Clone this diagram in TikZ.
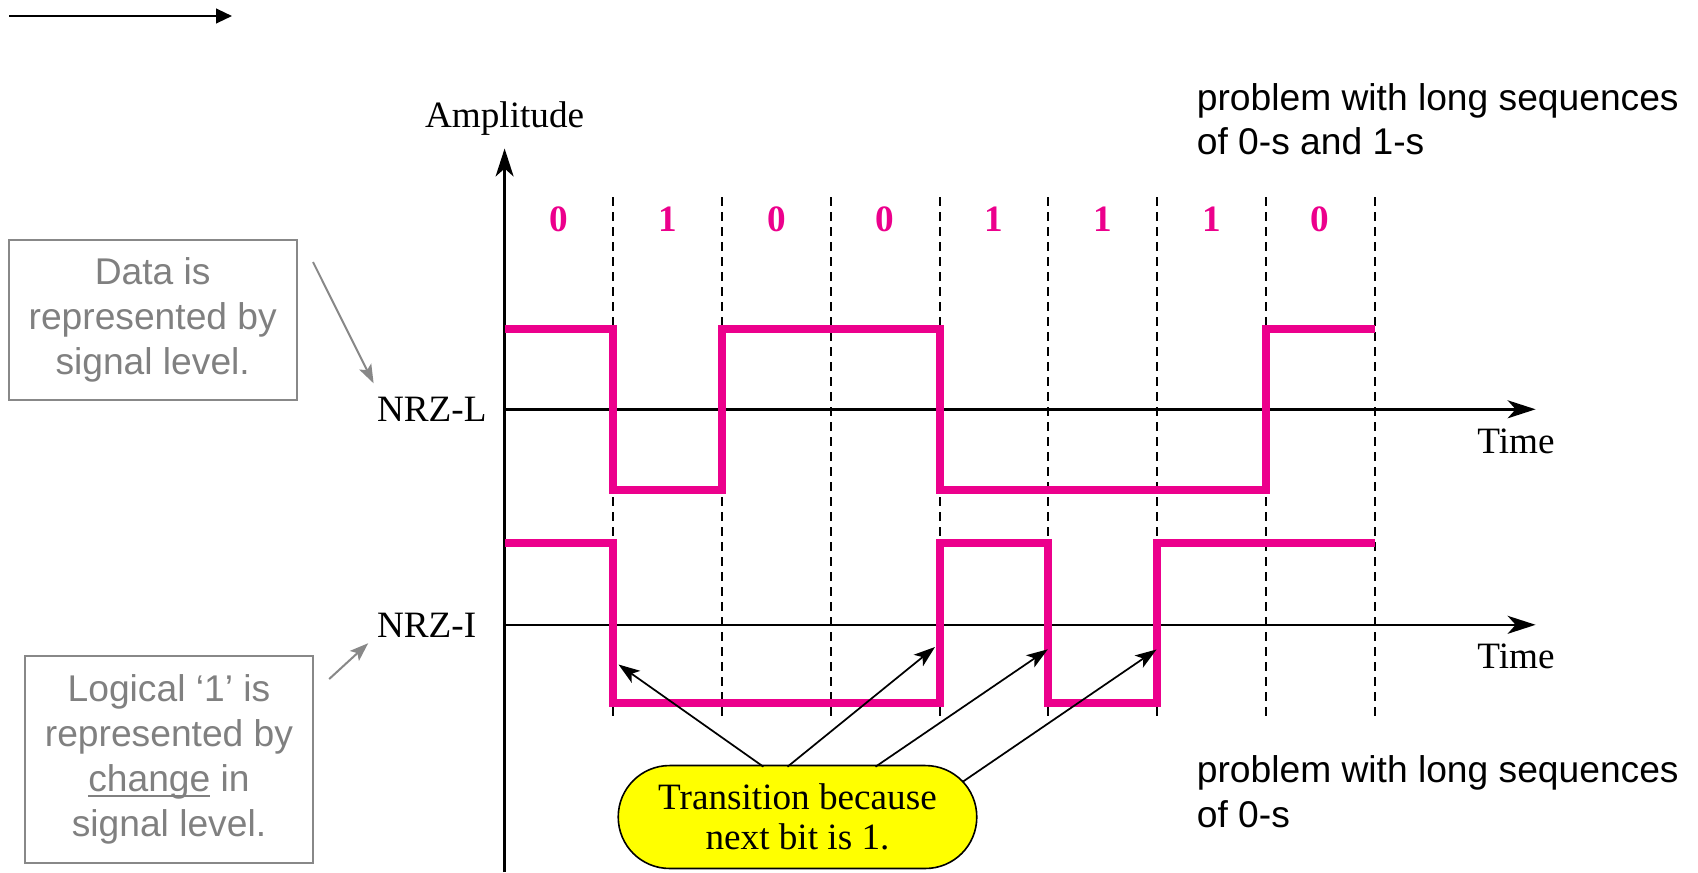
\documentclass[tikz,border=0pt]{standalone}
\usepackage{fontspec}
\setmainfont{Liberation Serif}
\newfontfamily\arialfont{Liberation Sans}
\usetikzlibrary{arrows.meta}
\definecolor{pinkc}{RGB}{236,0,140}
\definecolor{graytxt}{RGB}{128,128,128}
\definecolor{grayln}{RGB}{136,136,136}
\definecolor{pillyellow}{RGB}{255,255,0}
\newcommand\myul[1]{\setbox0\hbox{#1}\rlap{\rule[-0.13em]{\wd0}{0.055em}}\box0\relax}
\begin{document}
\begin{tikzpicture}[x=0.75pt,y=-0.75pt,
  axis/.style={line width=1.8pt,-{Stealth[length=21pt,width=13.5pt,inset=6pt]}},
  gridline/.style={line width=1.4pt,dash pattern=on 6.75pt off 4.5pt},
  sig/.style={line width=6pt,pinkc,line join=miter},
  bit/.style={font=\bfseries\fontsize{27.9}{30}\selectfont,text=pinkc,anchor=base,inner sep=0pt},
  lbl/.style={font=\fontsize{27.9}{30}\selectfont,inner sep=0pt},
  note/.style={draw=grayln,line width=1.5pt,text=graytxt,font=\arialfont\fontsize{27.9}{33.75}\selectfont,align=center,inner sep=0pt},
  garrow/.style={grayln,line width=1.5pt,-{Stealth[length=14pt,width=10pt,inset=3pt]}},
  pill/.style={draw=black,line width=1.2pt,fill=pillyellow,rounded corners=38.5pt,minimum width=268.9pt,minimum height=77.2pt,align=center,font=\fontsize{27.9}{30}\selectfont,inner sep=0pt},
  parrow/.style={line width=1.3pt,-{Stealth[length=16pt,width=11pt,inset=4pt]}},
  side/.style={font=\arialfont\fontsize{27.9}{33.4}\selectfont,align=left,anchor=west,inner sep=0pt},
  toparrow/.style={line width=1.7pt,-{Stealth[length=12pt,width=11pt,inset=0pt]}}
]
\useasboundingbox (0,0) rectangle (1698,872);

% top-left arrow
\coordinate (tl1) at (9,16);
\coordinate (tl2) at (232,16);
\draw[toparrow] (tl1) -- (tl2);

% dashed bit boundaries
\foreach \i in {1,...,8}{
  \draw[gridline] ({504.6+108.75*\i},197) -- ({504.6+108.75*\i},722);
}

% axes
\coordinate (o0) at (504.6,872);
\coordinate (atop) at (504.6,148.5);
\coordinate (l0) at (504.6,409.3);
\coordinate (l1) at (1535.6,409.3);
\coordinate (i0) at (504.6,624.8);
\coordinate (i1) at (1535.6,624.8);
\draw[axis] (o0) -- (atop);
\draw[axis] (l0) -- (l1);
\draw[axis] (i0) -- (i1);

% labels
\node[lbl,anchor=base] (amp) at (504.6,127) {Amplitude};
\node[lbl,anchor=base west] (nrzl) at (376.8,421.6) {NRZ-L};
\node[lbl,anchor=base west] (nrzi) at (376.8,637) {NRZ-I};
\node[lbl,anchor=base] (time1) at (1516,453) {Time};
\node[lbl,anchor=base] (time2) at (1516,668.5) {Time};

% bits
\foreach \b [count=\i from 0] in {0,1,0,0,1,1,1,0}{
  \node[bit] (b\i) at ({504.6+108.75*(\i+0.5)},231.7) {\b};
}

% signals
\draw[sig] (504.6,329) -- (613.35,329) -- (613.35,489.5) -- (722.1,489.5) -- (722.1,329)
  -- (939.6,329) -- (939.6,489.5) -- (1265.85,489.5) -- (1265.85,329) -- (1374.6,329);
\draw[sig] (504.6,542.5) -- (613.35,542.5) -- (613.35,703) -- (939.6,703) -- (939.6,542.5)
  -- (1048.35,542.5) -- (1048.35,703) -- (1157.1,703) -- (1157.1,542.5) -- (1374.6,542.5);

% gray notes
\node[note,minimum width=216pt,minimum height=119.4pt] (note1) at (152.7,320)
  {Data is\\represented by\\signal level.};
\node[note,minimum width=216.1pt,minimum height=155.1pt] (note2) at (169,759.6)
  {Logical ‘1’ is\\represented by\\\myul{change} in\\signal level.};
\coordinate (g1s) at (313,262);
\coordinate (g1e) at (373.6,383.3);
\coordinate (g2s) at (329.2,679);
\coordinate (g2e) at (368.2,643.2);
\draw[garrow] (g1s) -- (g1e);
\draw[garrow] (g2s) -- (g2e);

% side remarks
\node[side] (rem1) at (1196.6,119) {problem with long sequences\\of 0-s and 1-s};
\node[side] (rem2) at (1196.6,791.5) {problem with long sequences\\of 0-s};

% transition pill
\node[pill] (pill) at (797.5,817) {Transition because\\next bit is 1.};
\coordinate (p1) at (763.4,766.7);
\coordinate (p2) at (787.5,766.7);
\coordinate (p3) at (875.5,766.7);
\coordinate (p4) at (962.8,781.7);
\coordinate (t1) at (618.5,664.5);
\coordinate (t2) at (935,647);
\coordinate (t3) at (1047.8,649.3);
\coordinate (t4) at (1156.5,649.5);
\draw[parrow] (p1) -- (t1);
\draw[parrow] (p2) -- (t2);
\draw[parrow] (p3) -- (t3);
\draw[parrow] (p4) -- (t4);
\end{tikzpicture}
\end{document}
